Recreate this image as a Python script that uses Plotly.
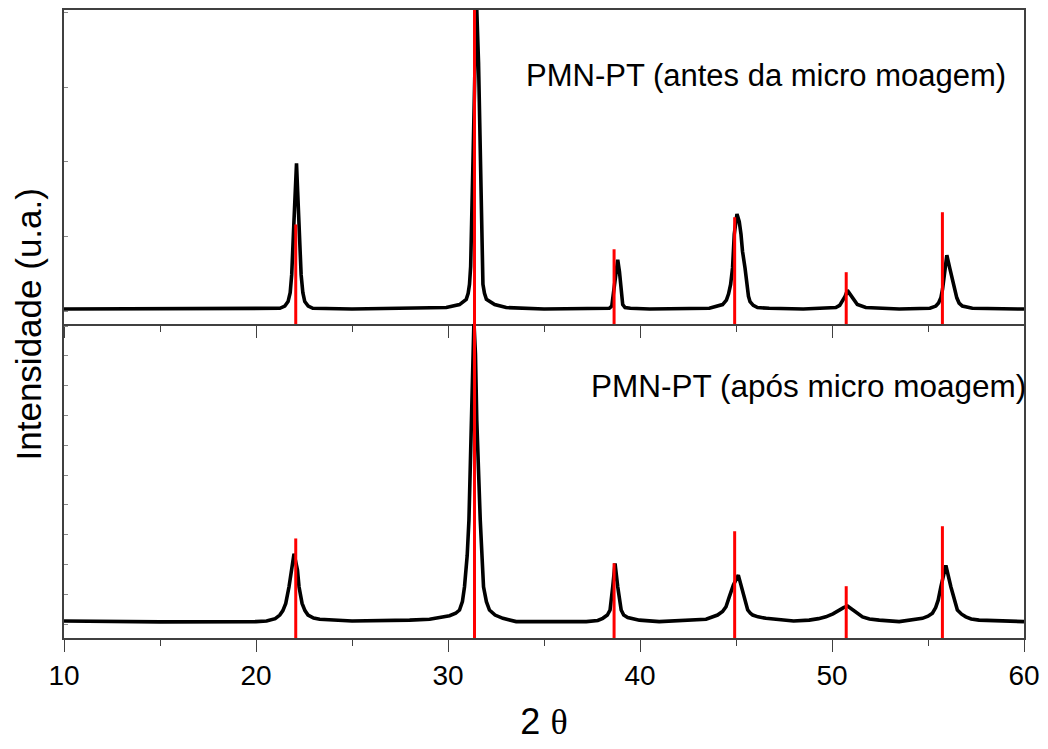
import plotly.graph_objects as go

# ---- data ----
two_theta_top = [10, 13, 16, 19, 21.24, 21.50, 21.67, 21.78, 21.86, 21.97, 22.03, 22.11, 22.17, 22.24, 22.35,
                 22.44, 22.54, 22.72, 22.96,
                 25, 28, 29.91, 30.60, 30.95, 31.05, 31.12, 31.18, 31.23, 31.30, 31.41, 31.49, 31.59, 31.68,
                 31.73, 31.78, 31.82, 31.90, 32.00, 32.43, 33.03, 35, 38.0, 38.40, 38.53, 38.63, 38.75, 38.84,
                 38.93, 39.02, 39.10, 39.22, 39.50, 40.5,
                 43.61, 44.30, 44.50, 44.61, 44.72, 44.82, 44.91, 45.05, 45.17, 45.26, 45.34, 45.47, 45.57,
                 45.65, 45.73, 45.90, 46.12, 46.73, 48.5, 49.70, 50.20, 50.40, 50.54, 50.68, 50.80, 50.93,
                 51.06, 51.32, 51.76, 53.5, 55.10, 55.41, 55.55, 55.67, 55.76, 55.84, 55.98, 56.13, 56.31,
                 56.50, 56.62, 56.79, 57.31, 60]
intens_top = [0.03, 0.03, 0.03, 0.03, 0.04, 0.07, 0.13, 0.25, 0.49, 1.16, 1.60, 1.98, 1.60, 1.16, 0.49,
              0.25, 0.13, 0.07, 0.04,
              0.03, 0.04, 0.05, 0.09, 0.16, 0.24, 0.36, 0.60, 1.03, 2.00, 3.33, 4.10, 3.33, 2.00,
              1.03, 0.60, 0.36, 0.24, 0.16, 0.09, 0.05, 0.03, 0.03, 0.04, 0.07, 0.27, 0.53, 0.69,
              0.53, 0.27, 0.09, 0.05, 0.04, 0.03,
              0.04, 0.09, 0.15, 0.23, 0.36, 0.58, 1.03, 1.30, 1.20, 1.03, 0.80, 0.58, 0.31,
              0.20, 0.13, 0.08, 0.05, 0.04, 0.03, 0.04, 0.05, 0.08, 0.13, 0.20, 0.28, 0.23,
              0.18, 0.09, 0.05, 0.03, 0.04, 0.07, 0.11, 0.18, 0.30, 0.49, 0.75, 0.58, 0.36,
              0.18, 0.11, 0.07, 0.04, 0.03]

two_theta_bot = [10, 15, 20, 20.55, 21.00, 21.24, 21.40, 21.55, 21.72, 21.85, 21.98, 22.16, 22.24, 22.40,
                 22.55, 22.71, 23.00, 23.32,
                 25, 28, 29.04, 30.08, 30.40, 30.60, 30.75, 30.86, 31.00, 31.09, 31.23, 31.30, 31.35, 31.43,
                 31.50, 31.68, 31.76, 31.85, 32.00, 32.16, 32.45, 32.86, 33.55, 35, 37.20, 37.80, 38.06,
                 38.30, 38.44, 38.58, 38.70, 38.84, 39.02, 39.15, 39.36, 39.97,
                 41, 43.44, 44.04, 44.30, 44.48, 44.65, 44.86, 45.12, 45.29, 45.47, 45.61, 45.75, 45.87,
                 46.15, 46.56, 48, 48.81, 49.30, 49.68, 50.05, 50.37, 50.60, 50.81, 51.10, 51.35, 51.59,
                 51.95, 52.46, 53.5, 54.71, 55.00, 55.23, 55.40, 55.53, 55.67, 55.93, 56.19, 56.36, 56.53,
                 56.75, 56.97, 57.25, 57.66, 60]
intens_bot = [0.10, 0.07, 0.08, 0.10, 0.18, 0.30, 0.45, 0.69, 1.25, 1.81, 2.36, 1.81, 1.25, 0.69,
              0.45, 0.30, 0.20, 0.16,
              0.10, 0.13, 0.16, 0.28, 0.36, 0.47, 0.75, 1.25, 2.30, 3.48, 6.82, 9.06, 10.15, 9.06,
              6.82, 3.48, 2.30, 1.25, 0.75, 0.47, 0.30, 0.19, 0.08, 0.08, 0.08, 0.12, 0.19,
              0.30, 0.47, 1.25, 2.03, 1.25, 0.47, 0.30, 0.22, 0.13,
              0.08, 0.16, 0.30, 0.42, 0.58, 0.91, 1.30, 1.64, 1.25, 0.80, 0.47, 0.36, 0.30,
              0.24, 0.19, 0.10, 0.13, 0.18, 0.24, 0.34, 0.47, 0.55, 0.60, 0.47, 0.34, 0.24,
              0.17, 0.13, 0.08, 0.19, 0.26, 0.36, 0.55, 0.80, 1.25, 1.97, 1.25, 0.80, 0.47,
              0.33, 0.24, 0.17, 0.13, 0.08]

ref_positions = [22.07, 31.38, 38.65, 44.93, 50.74, 55.75]
ref_relative = [31.7, 101, 23.8, 34.0, 16.5, 35.6]

x_ticks = [10, 20, 30, 40, 50, 60]
label_top = "PMN-PT (antes da micro moagem)"
label_bot = "PMN-PT (após micro moagem)"

# ---- figure ----
ref_x, ref_y = [], []
for p, h in zip(ref_positions, ref_relative):
    ref_x += [p, p, None]
    ref_y += [0, h, None]

fig = go.Figure()
fig.add_trace(go.Scatter(x=two_theta_top, y=intens_top, mode="lines", xaxis="x", yaxis="y",
                         line=dict(color="black", width=3.6), showlegend=False))
fig.add_trace(go.Scatter(x=two_theta_bot, y=intens_bot, mode="lines", xaxis="x2", yaxis="y2",
                         line=dict(color="black", width=3.6), showlegend=False))
fig.add_trace(go.Scatter(x=ref_x, y=ref_y, mode="lines", xaxis="x", yaxis="y3",
                         line=dict(color="red", width=3), showlegend=False))
fig.add_trace(go.Scatter(x=ref_x, y=ref_y, mode="lines", xaxis="x2", yaxis="y4",
                         line=dict(color="red", width=3), showlegend=False))

axcol = "#404040"
font_main = "Liberation Sans, Arial, sans-serif"

common_x = dict(range=[10, 60], tickvals=x_ticks, ticks="outside", ticklen=12, tickwidth=1.2,
                tickcolor=axcol, showline=True, linecolor=axcol, linewidth=1.5,
                showgrid=False, zeroline=False,
                minor=dict(dtick=5, tick0=10, ticks="outside", ticklen=6, tickwidth=1.2, tickcolor=axcol))
common_y = dict(ticks="inside", ticklen=4, tickwidth=1, tickcolor="#888", showticklabels=False,
                showline=True, linecolor=axcol, linewidth=1.5, mirror=True, showgrid=False,
                zeroline=False, dtick=1, tick0=0)

fig.update_layout(
    width=1048, height=749,
    margin=dict(l=64, r=23, t=8, b=111),
    plot_bgcolor="white", paper_bgcolor="white",
    font=dict(family=font_main, color="black"),
    xaxis=dict(anchor="y", showticklabels=False, mirror=True, **common_x),
    xaxis2=dict(anchor="y2", showticklabels=True, mirror=False, tickfont=dict(size=28, family=font_main),
                title=dict(text="2 <span style='font-family:Liberation Serif'>θ</span>",
                           font=dict(size=36, family=font_main), standoff=18),
                **common_x),
    yaxis=dict(domain=[0.5, 1], range=[-0.17, 4.03], anchor="x", **common_y),
    yaxis2=dict(domain=[0, 0.5], range=[-0.47, 10.07], anchor="x2", **common_y),
    yaxis3=dict(overlaying="y", range=[0, 100], visible=False, anchor="x"),
    yaxis4=dict(overlaying="y2", range=[0, 100], visible=False, anchor="x2"),
    annotations=[
        dict(text=label_top, xref="paper", yref="paper", x=0.983, y=0.895, xanchor="right",
             yanchor="middle", showarrow=False, font=dict(size=31, family=font_main)),
        dict(text=label_bot, xref="paper", yref="paper", x=1.004, y=0.401, xanchor="right",
             yanchor="middle", showarrow=False, font=dict(size=31.5, family=font_main)),
        dict(text="Intensidade (u.a.)", xref="paper", yref="paper", x=-0.037, y=0.5,
             xanchor="center", yanchor="middle", textangle=-90, showarrow=False,
             font=dict(size=35, family=font_main)),
    ],
)

fig.write_html("out.html")
